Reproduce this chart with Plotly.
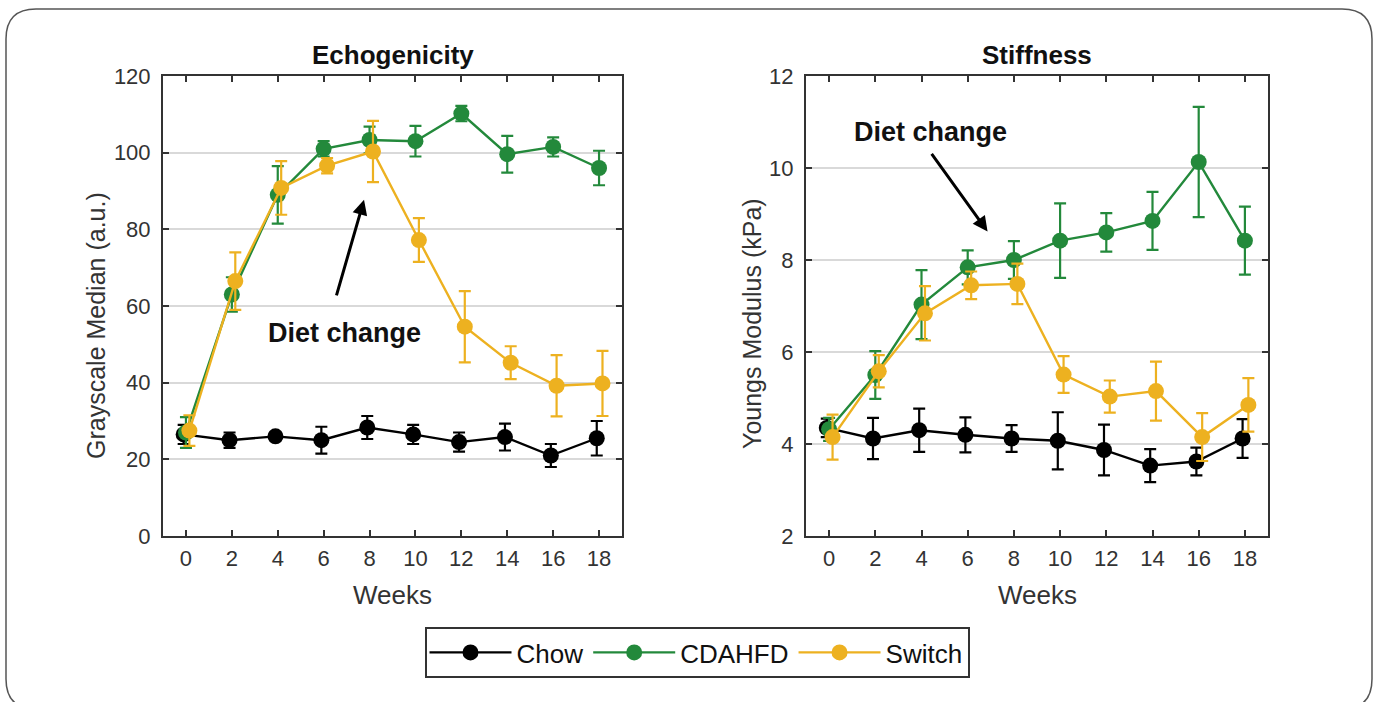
import plotly.graph_objects as go

# ---------------- data ----------------
weeks = [0, 2, 4, 6, 8, 10, 12, 14, 16, 18]
series_names = ["Chow", "CDAHFD", "Switch"]

echo_chow = [26.5, 25.0, 26.0, 25.0, 28.3, 26.5, 24.5, 25.8, 21.0, 25.5]
echo_chow_err = [2.5, 2.0, 1.0, 3.5, 3.0, 2.5, 2.5, 3.5, 3.0, 4.5]
echo_cda = [27.0, 63.0, 89.0, 101.0, 103.3, 103.0, 110.2, 99.6, 101.5, 96.0]
echo_cda_err = [4.0, 4.5, 7.5, 2.0, 3.5, 4.0, 2.0, 4.8, 2.5, 4.5]
echo_sw = [27.5, 66.5, 90.8, 96.6, 100.3, 77.2, 54.6, 45.2, 39.2, 39.8]
echo_sw_err = [4.0, 7.5, 7.0, 2.0, 8.0, 5.7, 9.3, 4.3, 8.0, 8.5]

stiff_chow = [4.35, 4.12, 4.30, 4.20, 4.12, 4.07, 3.87, 3.53, 3.62, 4.12]
stiff_chow_err = [0.2, 0.45, 0.47, 0.38, 0.29, 0.62, 0.55, 0.36, 0.30, 0.42]
stiff_cda = [4.32, 5.50, 7.03, 7.84, 8.00, 8.42, 8.60, 8.85, 10.13, 8.42]
stiff_cda_err = [0.25, 0.52, 0.75, 0.37, 0.41, 0.81, 0.42, 0.63, 1.20, 0.74]
stiff_sw = [4.15, 5.58, 6.84, 7.45, 7.48, 5.51, 5.03, 5.15, 4.15, 4.85]
stiff_sw_err = [0.49, 0.35, 0.59, 0.30, 0.44, 0.40, 0.35, 0.64, 0.52, 0.58]

x_ticks = [0, 2, 4, 6, 8, 10, 12, 14, 16, 18]
echo_ticks = [0, 20, 40, 60, 80, 100, 120]
stiff_ticks = [2, 4, 6, 8, 10, 12]

# ---------------- style ----------------
W, H = 1382, 702
FONT = "Liberation Sans, Arial, sans-serif"
colors = {"Chow": "#000000", "CDAHFD": "#23893b", "Switch": "#edb120"}
offsets = {"Chow": -0.1, "CDAHFD": 0.0, "Switch": 0.15}

def px_x(p):
    return p / W

def px_y(p):
    return 1 - p / H

L_dom = [px_x(163), px_x(622)]
R_dom = [px_x(806), px_x(1268)]
Y_dom = [px_y(536), px_y(76)]

fig = go.Figure()

panels = [
    ("x", "y", [echo_chow, echo_cda, echo_sw], [echo_chow_err, echo_cda_err, echo_sw_err], True),
    ("x2", "y2", [stiff_chow, stiff_cda, stiff_sw], [stiff_chow_err, stiff_cda_err, stiff_sw_err], False),
]
for xa, ya, vals, errs, show in panels:
    for name, v, e in zip(series_names, vals, errs):
        fig.add_trace(go.Scatter(
            x=[w + offsets[name] for w in weeks], y=v,
            mode="lines+markers", name=name, showlegend=show, legendgroup=name,
            line=dict(color=colors[name], width=2.4),
            marker=dict(color=colors[name], size=16, symbol="circle"),
            error_y=dict(type="data", array=e, visible=True, color=colors[name],
                         thickness=2.2, width=6),
            xaxis=xa, yaxis=ya,
        ))

axis_common = dict(
    showline=True, linecolor="#333333", linewidth=2, mirror="ticks",
    ticks="inside", ticklen=6, tickwidth=1.5, tickcolor="#333333",
    tickfont=dict(family=FONT, size=22, color="#333333"), zeroline=False,
    automargin=False,
)

fig.update_layout(
    template="none",
    width=W, height=H,
    margin=dict(l=0, r=0, t=0, b=0, pad=0),
    paper_bgcolor="white", plot_bgcolor="white",
    font=dict(family=FONT),
    xaxis=dict(domain=L_dom, range=[-1, 19], tickvals=x_ticks, showgrid=False, anchor="y",
               ticklabelstandoff=2, **axis_common),
    yaxis=dict(domain=Y_dom, range=[0, 120], tickvals=echo_ticks, showgrid=True,
               gridcolor="#d9d9d9", gridwidth=1.5, anchor="x", ticklabelstandoff=6, **axis_common),
    xaxis2=dict(domain=R_dom, range=[-1, 19], tickvals=x_ticks, showgrid=False, anchor="y2",
                ticklabelstandoff=2, **axis_common),
    yaxis2=dict(domain=Y_dom, range=[2, 12], tickvals=stiff_ticks, showgrid=True,
                gridcolor="#d9d9d9", gridwidth=1.5, anchor="x2", ticklabelstandoff=6, **axis_common),
    legend=dict(orientation="h", x=px_x(697), xanchor="center", y=px_y(627), yanchor="top",
                bordercolor="#333333", borderwidth=2, bgcolor="white",
                font=dict(family=FONT, size=26, color="#111111"),
                itemwidth=82, tracegroupgap=0),
)

def pann(text, x, y, size, color="#111111", angle=0):
    return dict(text=text, x=x, y=y, xref="paper", yref="paper", showarrow=False,
                xanchor="center", yanchor="middle", textangle=angle,
                font=dict(family=FONT, size=size, color=color))

ann = []
ann.append(pann("<b>Echogenicity</b>", (L_dom[0] + L_dom[1]) / 2, px_y(55), 26))
ann.append(pann("<b>Stiffness</b>", (R_dom[0] + R_dom[1]) / 2, px_y(55), 26))
ann.append(pann("Grayscale Median (a.u.)", px_x(96), px_y(326), 25, "#333333", -90))
ann.append(pann("Youngs Modulus (kPa)", px_x(752), px_y(324), 25, "#333333", -90))
ann.append(pann("Weeks", (L_dom[0] + L_dom[1]) / 2, px_y(595), 26, "#333333"))
ann.append(pann("Weeks", (R_dom[0] + R_dom[1]) / 2, px_y(595), 26, "#333333"))
# diet change labels and arrows
ann.append(dict(text="<b>Diet change</b>", x=6.93, y=53, xref="x", yref="y", showarrow=False,
                xanchor="center", yanchor="middle",
                font=dict(family=FONT, size=27, color="#111111")))
ann.append(dict(text="", x=7.76, y=87.7, xref="x", yref="y", showarrow=True,
                ax=-28, ay=97, arrowhead=2, arrowsize=1, arrowwidth=3, arrowcolor="#000000"))
ann.append(dict(text="<b>Diet change</b>", x=4.39, y=10.79, xref="x2", yref="y2", showarrow=False,
                xanchor="center", yanchor="middle",
                font=dict(family=FONT, size=27, color="#111111")))
ann.append(dict(text="", x=6.86, y=8.62, xref="x2", yref="y2", showarrow=True,
                ax=-57, ay=-79, arrowhead=2, arrowsize=1, arrowwidth=3, arrowcolor="#000000"))
fig.update_layout(annotations=ann)

# rounded outer frame
l, r, t, b, rad = 6, 1372, 9, 709, 30
pts = [("M", l + rad, t), ("L", r - rad, t), ("Q", r, t, r, t + rad), ("L", r, b - rad),
       ("Q", r, b, r - rad, b), ("L", l + rad, b), ("Q", l, b, l, b - rad), ("L", l, t + rad),
       ("Q", l, t, l + rad, t)]
path = ""
for p in pts:
    cmd = p[0]
    coords = p[1:]
    s = []
    for i in range(0, len(coords), 2):
        s.append(f"{px_x(coords[i]):.5f},{px_y(coords[i + 1]):.5f}")
    path += cmd + " " + " ".join(s) + " "
path += "Z"
fig.add_shape(type="path", path=path, xref="paper", yref="paper",
              line=dict(color="#555555", width=1.5), layer="below")

fig.write_html("out.html", config={"displayModeBar": False},
               post_script="document.body.style.margin='0';document.body.style.overflow='hidden';")
